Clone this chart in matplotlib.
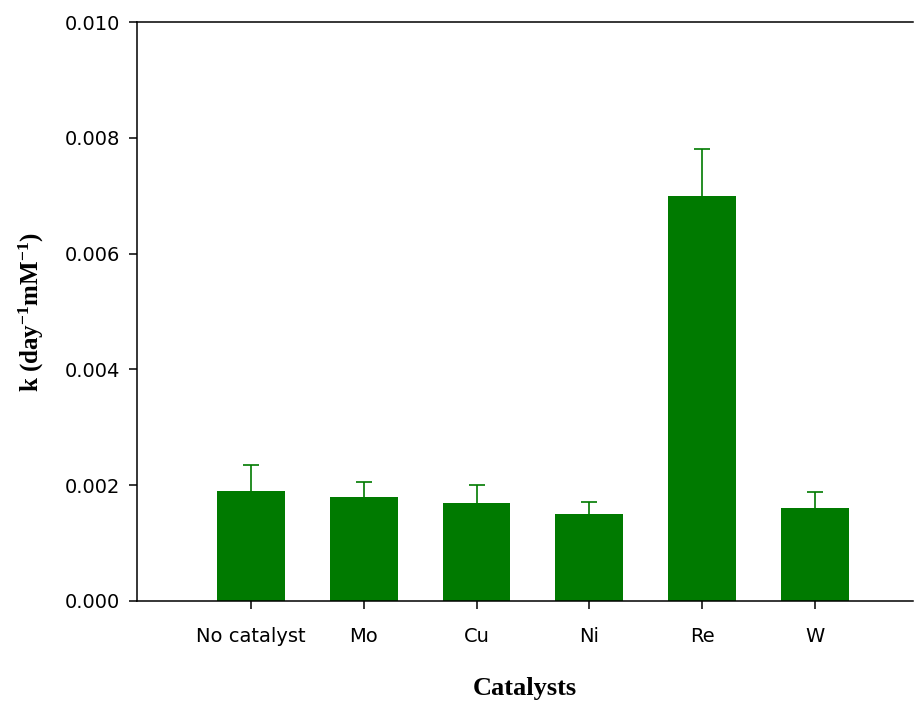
import matplotlib.pyplot as plt
import numpy as np

catalysts = ['No catalyst', 'Mo', 'Cu', 'Ni', 'Re', 'W']
k_values = [0.0019, 0.0018, 0.0017, 0.0015, 0.0070, 0.0016]
k_errors = [0.00045, 0.00025, 0.0003, 0.00021, 0.0008, 0.00029]
y_ticks = [0.000, 0.002, 0.004, 0.006, 0.008, 0.010]

plt.rcParams['mathtext.default'] = 'regular'

fig = plt.figure(figsize=(9.14, 7.03), dpi=100)
ax = fig.add_axes([0.1499, 0.1451, 0.8490, 0.8236])

green = '#007a00'
x = np.arange(len(catalysts))
vals = np.array(k_values)
errs = np.array(k_errors)

# upper-only error bars: stem + cap
ax.errorbar(x, vals, yerr=[np.zeros(len(errs)), errs], fmt='none',
            ecolor=green, elinewidth=1.2, capsize=0, zorder=1)
ax.plot(x, vals + errs, ls='none', marker='_', markersize=12,
        markeredgewidth=1.2, color=green, zorder=1)
ax.bar(x, vals, width=0.6, color=green, edgecolor='none', zorder=2)

ax.set_xlim(-1.01, 5.87)
ax.set_ylim(0, 0.010)
ax.set_xticks(x)
ax.set_xticklabels(catalysts, fontsize=14, family='DejaVu Sans')
ax.set_yticks(y_ticks)
ax.set_yticklabels(['%.3f' % v for v in y_ticks], fontsize=14, family='DejaVu Sans')
ax.tick_params(direction='out', length=6, width=1.1, pad=6)
ax.tick_params(axis='x', pad=13)

ax.spines['right'].set_visible(False)
for s in ['left', 'top', 'bottom']:
    ax.spines[s].set_linewidth(1.1)

ax.set_xlabel('Catalysts', family='Liberation Serif', fontweight='bold', fontsize=19, labelpad=22)
ax.set_ylabel(r'k (day$^{-1}$mM$^{-1}$)', family='Liberation Serif', fontweight='bold',
              fontsize=18, labelpad=14)

fig.savefig('out.png', dpi=100)
